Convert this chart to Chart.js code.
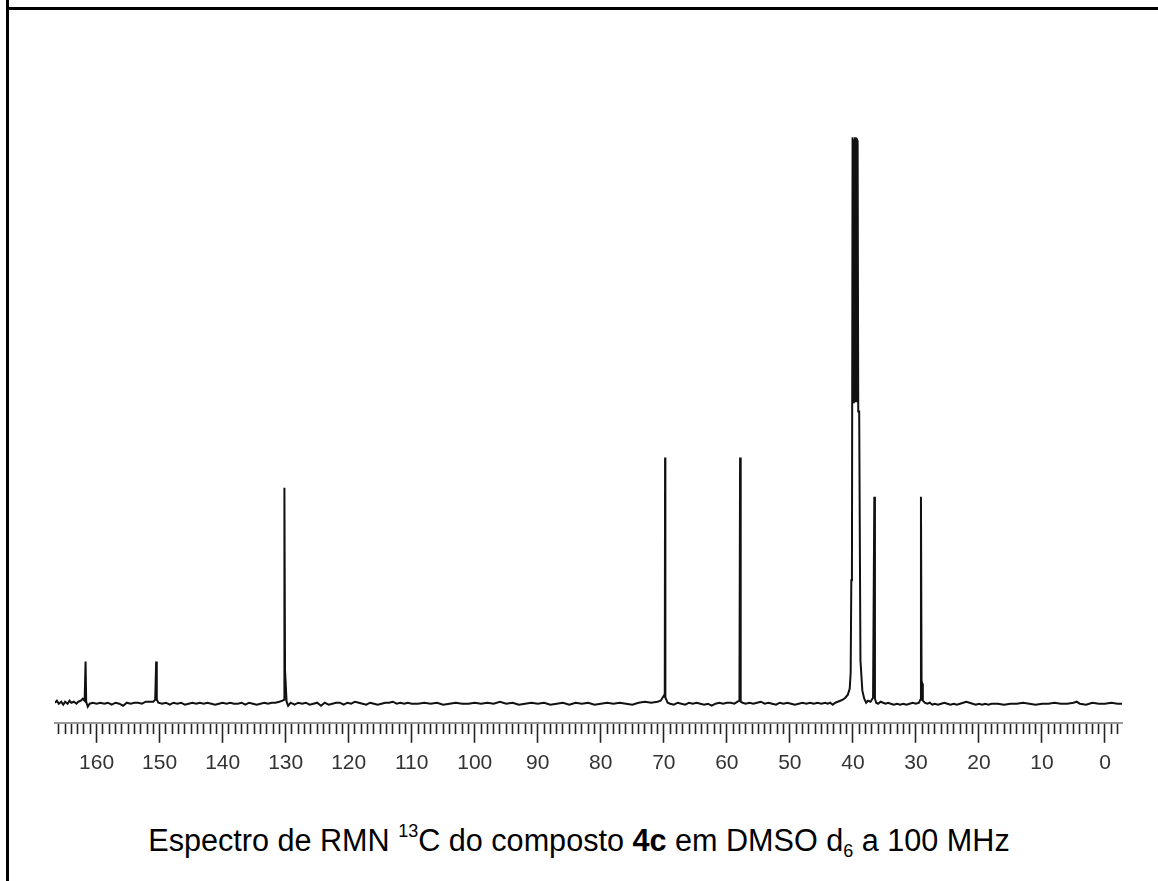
<!DOCTYPE html>
<html>
<head>
<meta charset="utf-8">
<script src="https://cdn.jsdelivr.net/npm/chart.js@4.4.1/dist/chart.umd.min.js"></script>
<style>
  html, body { margin: 0; padding: 0; background: #fff; }
  body { width: 1158px; height: 881px; position: relative; overflow: hidden; }
  .frameLeft { position: absolute; left: 6px; top: 0; width: 3px; height: 881px; background: #000; }
  .frameTop { position: absolute; left: 6px; top: 7px; width: 1152px; height: 3px; background: #000; }
  #wrap { position: absolute; left: 0; top: 0; width: 1158px; height: 800px; }
  .caption {
    position: absolute; left: 0; top: 822px; width: 1158px; text-align: center;
    font-family: "Liberation Sans", Arial, sans-serif; font-size: 30.6px; line-height: 36px; color: #000;
  }
  .caption .sup { font-size: 18px; vertical-align: 14px; line-height: 0; }
  .caption .sub { font-size: 18px; vertical-align: -6px; line-height: 0; }
</style>
</head>
<body>
<div class="frameLeft"></div>
<div class="frameTop"></div>
<div id="wrap"><canvas id="nmrCanvas"></canvas></div>
<div class="caption">Espectro de RMN <span class="sup">13</span>C do composto <b>4c</b> em DMSO d<span class="sub">6</span> a 100 MHz</div>
<script>
// chemical shift (ppm) and signal height
const shift = [
  166.6, 166.3, 166.0, 165.6, 165.3, 165.0, 164.6, 164.3, 164.0, 163.6, 163.2, 162.9, 162.5, 162.2, 161.9,
  161.75, 161.65, 161.4, 161.1, 160.6, 160.0, 159.4, 158.8, 158.2, 157.6, 157.0, 156.4, 155.8, 155.2, 154.6,
  154.0, 153.4, 152.8, 152.2, 151.6, 151.0, 150.7, 150.55, 150.45, 150.2, 149.6, 149.0, 148.4, 147.8, 147.2,
  146.6, 146.0, 145.4, 144.8, 144.2, 143.6, 143.0, 142.4, 141.8, 141.2, 140.6, 140.0, 139.4, 138.8, 138.2,
  137.6, 137.0, 136.4, 135.8, 135.2, 134.6, 134.0, 133.4, 132.8, 132.2, 131.6, 131.0, 130.5, 130.25, 130.2,
  130.1, 129.95, 129.85, 129.6, 129.2, 128.6, 128.0, 127.4, 126.8, 126.2, 125.6, 125.0, 124.4, 123.8, 123.2,
  122.6, 122.0, 121.4, 120.8, 120.2, 119.6, 119.0, 118.4, 117.8, 117.2, 116.6, 116.0, 115.4, 114.8, 114.2,
  113.6, 113.0, 112.4, 111.8, 111.2, 110.6, 110.0, 109.0, 108.0, 107.0, 106.0, 105.0, 104.0, 103.0, 102.0,
  101.0, 100.0, 99.0, 98.0, 97.0, 96.0, 95.0, 94.0, 93.0, 92.0, 91.0, 90.0, 89.0, 88.0, 87.0,
  86.0, 85.0, 84.0, 83.0, 82.0, 81.0, 80.0, 79.0, 78.0, 77.0, 76.0, 75.0, 74.0, 73.0, 72.0,
  71.0, 70.5, 70.2, 70.0, 69.85, 69.8, 69.75, 69.6, 69.4, 69.0, 68.4, 67.8, 67.2, 66.6, 66.0,
  65.4, 64.8, 64.2, 63.6, 63.0, 62.4, 61.8, 61.2, 60.6, 60.0, 59.4, 58.8, 58.3, 58.0, 57.9,
  57.8, 57.5, 57.0, 56.4, 55.8, 55.2, 54.6, 54.0, 53.4, 52.8, 52.2, 51.6, 51.0, 50.4, 49.8,
  49.2, 48.6, 48.0, 47.4, 46.8, 46.2, 45.6, 45.0, 44.4, 44.0, 43.6, 43.2, 42.8, 42.4, 42.0,
  41.6, 41.2, 40.8, 40.5, 40.35, 40.25, 40.15, 40.05, 39.95, 39.85, 39.75, 39.65, 39.55, 39.45, 39.35,
  39.25, 39.15, 39.0, 38.9, 38.8, 38.5, 38.2, 37.9, 37.6, 37.2, 36.8, 36.6, 36.5, 36.3, 36.0,
  35.6, 35.2, 34.8, 34.4, 34.0, 33.5, 33.0, 32.5, 32.0, 31.5, 31.0, 30.5, 30.0, 29.5, 29.3,
  29.2, 29.1, 29.0, 28.9, 28.6, 28.2, 27.8, 27.4, 27.0, 26.5, 26.0, 25.5, 25.0, 24.5, 24.0,
  23.5, 23.0, 22.5, 22.0, 21.5, 21.0, 20.5, 20.0, 19.5, 19.0, 18.5, 18.0, 17.0, 16.0, 15.0,
  14.0, 13.0, 12.0, 11.0, 10.0, 9.0, 8.0, 7.0, 6.0, 5.0, 4.5, 4.0, 3.0, 2.0, 1.0,
  0.0, -1.0, -2.0, -2.7
];
const signal = [
  1, 3, 0, 2, -1, 2, 0, 3, 1, 2, 0, 2, 3, 5, 3,
  42, 2, -3, 0, 1, 0, 1, 0, 1, -1, 1, 0, -2, 1, 0,
  1, 1, 0, 2, 2, 2, 4, 42, 4, 1, 0, 1, -1, 1, 0,
  1, -1, 0, 1, 0, 1, 0, 1, 0, -1, 0, 1, 0, 1, 0,
  0, 1, -1, 1, 0, -1, 0, 1, 0, 1, 1, 2, 3, 4, 215,
  33, 33, 2, -2, 1, -1, 1, 0, 1, -1, 0, 1, -2, 1, -1,
  0, 1, 1, -1, 1, 0, 2, 1, 0, -1, 1, 0, -1, 0, 1,
  1, 2, 0, 1, 0, 1, 0, 0, 1, 0, 1, -1, 0, 1, 0,
  0, 1, 0, 1, 0, 2, 0, 1, -1, 0, 1, 0, 1, -1, 0,
  1, -1, 1, 0, 1, -1, 0, 1, 0, 1, 0, -1, 1, 2, 1,
  2, 3, 6, 8, 7, 245, 6, 4, 1, 0, -1, 1, 0, -1, 1,
  0, 1, 0, -1, 0, -2, 0, 1, 0, 1, 1, 0, 2, 3, 245,
  2, 1, 0, 1, 0, 1, 2, 0, 1, 0, -1, 1, 0, 1, 0,
  -1, 0, 1, 0, 1, 0, 1, 0, 1, 0, 1, -1, 1, 2, 3,
  4, 6, 9, 15, 31, 123, 125, 564, 300, 562, 300, 564, 300, 563, 300,
  561, 291, 291, 291, 43, 13, 5, 1, 3, 2, 6, 206, 5, 1, 0,
  2, 1, 0, 1, 0, -1, 0, -1, 0, -1, 0, 1, 0, 1, 4,
  206, 23, 20, 3, 1, 0, 1, -1, 0, -1, 0, 1, 0, -1, 0,
  -1, 0, 1, 2, 1, 0, -1, 0, -1, 0, -1, 0, 0, -1, 0,
  0, 1, 0, -1, 0, 0, 1, 0, 0, 1, 2, 0, -1, 1, 0,
  0, 1, 0, 0
];
const ppmMin = -2.7;
const ppmMax = 166.6;
const labelStep = 10;

const spectrum = shift.map((x, i) => ({ x: x, y: signal[i] }));

const isMajor = v => Math.round(v) % labelStep === 0;

new Chart(document.getElementById('nmrCanvas'), {
  type: 'scatter',
  data: {
    datasets: [{
      data: spectrum,
      showLine: true,
      borderColor: '#111',
      borderWidth: 2,
      pointRadius: 0,
      tension: 0
    }]
  },
  options: {
    responsive: true,
    maintainAspectRatio: false,
    animation: false,
    layout: { padding: { left: 55, right: 36, top: 100, bottom: 16 } },
    plugins: {
      legend: { display: false },
      tooltip: { enabled: false }
    },
    scales: {
      x: {
        type: 'linear',
        reverse: true,
        min: ppmMin,
        max: ppmMax,
        border: { display: true, color: '#999', width: 2 },
        grid: {
          drawOnChartArea: false,
          drawTicks: true,
          tickLength: 20,
          tickColor: '#222',
          tickWidth: 1.6,
          tickBorderDash: ctx => (ctx.tick && isMajor(ctx.tick.value)) ? [] : [10, 40]
        },
        ticks: {
          stepSize: 1,
          autoSkip: false,
          maxRotation: 0,
          includeBounds: false,
          maxTicksLimit: 500,
          padding: 8,
          color: '#333',
          font: { family: '"Liberation Sans", Arial, sans-serif', size: 21 },
          callback: v => isMajor(v) ? String(Math.round(v)) : ''
        }
      },
      y: {
        display: false,
        min: -19,
        max: 601
      }
    }
  }
});
</script>
</body>
</html>
